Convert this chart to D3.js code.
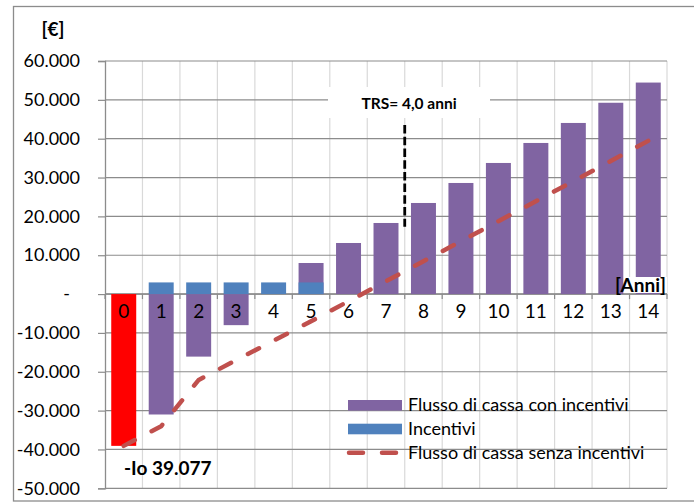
<!DOCTYPE html>
<html>
<head>
<meta charset="utf-8">
<script src="https://cdn.jsdelivr.net/npm/d3@7/dist/d3.min.js"></script>
<style>
  html, body { margin: 0; padding: 0; background: #fff; }
  svg { display: block; font-family: Lato, "Open Sans", sans-serif; }
</style>
</head>
<body>
<svg id="chart" width="694" height="502"></svg>
<script>
// Anni del periodo di analisi
const anni = ["0","1","2","3","4","5","6","7","8","9","10","11","12","13","14"];
// Flusso di cassa cumulato con incentivi [€]
const flussoConIncentivi = [-39077, -31000, -16100, -8000, 0, 8000, 13150, 18300, 23450, 28600, 33750, 38900, 44050, 49250, 54450];
// Incentivi annui [€]
const incentivi = [0, 3000, 3000, 3000, 3000, 3000, 0, 0, 0, 0, 0, 0, 0, 0, 0];
// Flusso di cassa cumulato senza incentivi [€]
const flussoSenzaIncentivi = [-39077, -34000, -22100, -17000, -12000, -7000, -1850, 3300, 8450, 13600, 18750, 23900, 29050, 34250, 39450];
// Valori dell'asse verticale
const yTicks = [60000, 50000, 40000, 30000, 20000, 10000, 0, -10000, -20000, -30000, -40000, -50000];
// Annotazioni
const investimento = 39077;
const trsTesto = "TRS= 4,0 anni";
const trsAnno = "8";
const trsLinea = [43500, 17300];

const legenda = [
  { label: "Flusso di cassa con incentivi", tipo: "bar", colore: "#8064A2" },
  { label: "Incentivi", tipo: "bar", colore: "#4F81BD" },
  { label: "Flusso di cassa senza incentivi", tipo: "line", colore: "#C0504D" }
];

const svg = d3.select("#chart");

const plot = { left: 105, right: 667, top: 61, bottom: 488.3 };

const x = d3.scaleBand().domain(anni).range([plot.left, plot.right]).paddingInner(0).paddingOuter(0);
const xBar = d3.scaleBand().domain(anni).range([plot.left, plot.right]).paddingInner(1/3).paddingOuter(1/6);
const y = d3.scaleLinear().domain([-50000, 60000]).range([plot.bottom, plot.top]);

const it = d3.formatLocale({ decimal: ",", thousands: ".", grouping: [3], currency: ["", "€"], minus: "-" });
const fmt = it.format(",.0f");

// Cornice esterna
svg.append("rect")
  .attr("x", 13.5).attr("y", 6.5).attr("width", 700).attr("height", 494.5)
  .attr("fill", "none").attr("stroke", "#8c8c8c").attr("stroke-width", 1.3);

// Griglia verticale
const edges = anni.map(a => x(a) + x.bandwidth()).concat([]);
svg.append("g").selectAll("line").data(edges).join("line")
  .attr("x1", d => d).attr("x2", d => d)
  .attr("y1", plot.top).attr("y2", plot.bottom)
  .attr("stroke", "#d9d9d9").attr("stroke-width", 1.2);

// Griglia orizzontale
svg.append("g").selectAll("line").data(yTicks).join("line")
  .attr("x1", plot.left).attr("x2", plot.right)
  .attr("y1", d => y(d)).attr("y2", d => y(d))
  .attr("stroke", "#8c8c8c").attr("stroke-width", 1.2);

// Asse verticale
const yAxis = svg.append("g")
  .attr("transform", `translate(${plot.left},0)`)
  .call(d3.axisLeft(y).tickValues(yTicks).tickSize(7).tickPadding(18)
    .tickFormat(d => d === 0 ? "-" : fmt(d)));
yAxis.select(".domain").attr("stroke", "#8c8c8c").attr("stroke-width", 1.3);
yAxis.selectAll(".tick line").attr("stroke", "#8c8c8c").attr("stroke-width", 1.2);
yAxis.selectAll(".tick text")
  .attr("font-family", "Lato").attr("font-size", 18).attr("fill", "#000")
  .attr("dy", "0.32em")
  .attr("x", d => d === 0 ? -35 : -25);

// Asse orizzontale (a zero)
const xTickEdges = anni.map(a => x(a)).concat([plot.right]);
svg.append("g").selectAll("line").data(xTickEdges).join("line")
  .attr("x1", d => d).attr("x2", d => d)
  .attr("y1", y(0)).attr("y2", y(0) + 5)
  .attr("stroke", "#8c8c8c").attr("stroke-width", 1.2);
svg.append("line")
  .attr("x1", plot.left).attr("x2", plot.right)
  .attr("y1", y(0)).attr("y2", y(0))
  .attr("stroke", "#8c8c8c").attr("stroke-width", 1.5);

// Barre: flusso di cassa con incentivi (anno 0 in rosso)
svg.append("g").selectAll("rect").data(flussoConIncentivi).join("rect")
  .attr("x", (d, i) => xBar(anni[i]))
  .attr("width", xBar.bandwidth())
  .attr("y", d => y(Math.max(0, d)))
  .attr("height", d => Math.abs(y(d) - y(0)))
  .attr("fill", (d, i) => i === 0 ? "#FF0000" : "#8064A2");

// Barre: incentivi
svg.append("g").selectAll("rect").data(incentivi).join("rect")
  .attr("x", (d, i) => xBar(anni[i]))
  .attr("width", xBar.bandwidth())
  .attr("y", d => y(Math.max(0, d)))
  .attr("height", d => Math.abs(y(d) - y(0)))
  .attr("fill", "#4F81BD");

// Etichette degli anni
svg.append("g").selectAll("text").data(anni).join("text")
  .attr("x", d => x(d) + x.bandwidth() / 2)
  .attr("y", y(0) + 24)
  .attr("text-anchor", "middle")
  .attr("font-size", 19).attr("fill", "#000")
  .text(d => d);

// Linea: flusso di cassa senza incentivi
const line = d3.line()
  .x((d, i) => x(anni[i]) + x.bandwidth() / 2)
  .y(d => y(d));
svg.append("path")
  .datum(flussoSenzaIncentivi)
  .attr("d", line)
  .attr("fill", "none")
  .attr("stroke", "#C0504D")
  .attr("stroke-width", 4.5)
  .attr("stroke-linecap", "round")
  .attr("stroke-dasharray", "12.5 19");

// Annotazione TRS
const trsX = x(trsAnno);
svg.append("rect")
  .attr("x", 328).attr("y", 87).attr("width", 162).attr("height", 31)
  .attr("fill", "#fff");
svg.append("text")
  .attr("x", 409).attr("y", 109.3)
  .attr("text-anchor", "middle")
  .attr("font-size", 15.5).attr("font-weight", "bold").attr("fill", "#000")
  .text(trsTesto);
svg.append("line")
  .attr("x1", trsX).attr("x2", trsX)
  .attr("y1", y(trsLinea[0])).attr("y2", y(trsLinea[1]))
  .attr("stroke", "#000").attr("stroke-width", 2.8)
  .attr("stroke-dasharray", "8.5 3.2");

// Etichetta asse orizzontale
svg.append("rect")
  .attr("x", 625).attr("y", 277).attr("width", 42).attr("height", 16)
  .attr("fill", "#fff");
svg.append("text")
  .attr("x", 666).attr("y", 292)
  .attr("text-anchor", "end")
  .attr("font-size", 19).attr("font-weight", "bold").attr("fill", "#000")
  .text("[Anni]");

// Unità asse verticale
svg.append("text")
  .attr("x", 41.5).attr("y", 35.5)
  .attr("font-size", 19).attr("font-weight", "bold").attr("fill", "#000")
  .text("[€]");

// Investimento iniziale
svg.append("text")
  .attr("x", 124).attr("y", 475)
  .attr("font-size", 19).attr("font-weight", "bold").attr("fill", "#000")
  .text("-Io " + fmt(investimento));

// Legenda
const leg = svg.append("g").attr("transform", "translate(348,405.3)");
const row = leg.selectAll("g").data(legenda).join("g")
  .attr("transform", (d, i) => `translate(0,${i * 23.7})`);
row.filter(d => d.tipo === "bar").append("rect")
  .attr("x", 0).attr("y", -5.3).attr("width", 54).attr("height", 10.6)
  .attr("fill", d => d.colore);
row.filter(d => d.tipo === "line").append("line")
  .attr("x1", 1).attr("x2", 52).attr("y1", 0).attr("y2", 0)
  .attr("stroke", d => d.colore).attr("stroke-width", 4.5)
  .attr("stroke-linecap", "round")
  .attr("stroke-dasharray", "14 19");
row.append("text")
  .attr("x", 60).attr("y", 6)
  .attr("font-size", 18).attr("fill", "#000")
  .text(d => d.label);
</script>
</body>
</html>
